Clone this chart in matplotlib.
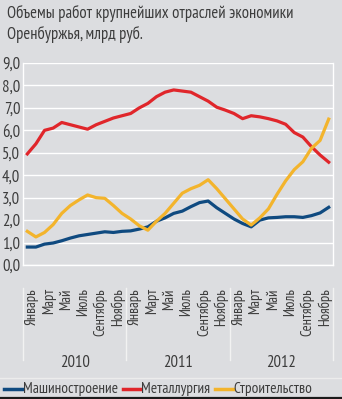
# -*- coding: utf-8 -*-
"""
Объемы работ крупнейших отраслей экономики Оренбуржья, 2010-2012
"""
import matplotlib
matplotlib.use("Agg")
import matplotlib.pyplot as plt
from matplotlib import font_manager
from matplotlib.lines import Line2D
from matplotlib.transforms import blended_transform_factory

#--- Data (млрд руб., monthly Jan 2010 .. Dec 2012)
years = ["2010", "2011", "2012"]
month_labels = ["Январь", "Март", "Май", "Июль", "Сентябрь", "Ноябрь"]

mashinostroenie = [0.80, 0.80, 0.93, 0.98, 1.08, 1.20, 1.30, 1.36, 1.42, 1.48, 1.45, 1.50,
                   1.52, 1.60, 1.70, 1.95, 2.10, 2.30, 2.40, 2.60, 2.78, 2.85, 2.55, 2.30,
                   2.05, 1.85, 1.70, 2.00, 2.10, 2.12, 2.15, 2.15, 2.12, 2.20, 2.32, 2.57]
metallurgiya = [4.95, 5.40, 6.00, 6.10, 6.35, 6.25, 6.15, 6.05, 6.25, 6.40, 6.55, 6.65,
                6.75, 7.00, 7.20, 7.50, 7.70, 7.80, 7.75, 7.70, 7.50, 7.30, 7.03, 6.90,
                6.75, 6.52, 6.65, 6.60, 6.52, 6.42, 6.27, 5.90, 5.70, 5.27, 4.90, 4.58]
stroitelstvo = [1.50, 1.25, 1.45, 1.80, 2.30, 2.65, 2.90, 3.12, 3.00, 2.97, 2.65, 2.30,
                2.05, 1.75, 1.55, 1.95, 2.30, 2.75, 3.20, 3.40, 3.55, 3.80, 3.40, 2.95,
                2.50, 2.05, 1.78, 2.10, 2.50, 3.15, 3.75, 4.25, 4.60, 5.20, 5.55, 6.50]

series_names = ["Машиностроение", "Металлургия", "Строительство"]
series_colors = ["#0f4a80", "#e0262b", "#f3b42c"]

bg = "#dcdde0"
text_col = "#3c3c3c"

# Pick a narrow font if there is one
names = {f.name for f in font_manager.fontManager.ttflist}
prefs = ["PT Sans Narrow", "Archivo Narrow", "Roboto Condensed", "Fira Sans Condensed",
         "Liberation Sans Narrow", "Roboto"]
narrow = next((p for p in prefs if p in names), "DejaVu Sans")
plt.rcParams["font.family"] = [narrow, "DejaVu Sans"]

W, H = 342, 399
fig = plt.figure(figsize=(W / 100, H / 100), dpi=100, facecolor=bg)
ax = fig.add_axes([23 / W, 1 - 265 / H, 310 / W, 202 / H], facecolor=bg)

x = list(range(len(metallurgiya)))
for vals, col in zip([mashinostroenie, metallurgiya, stroitelstvo], series_colors):
    ax.plot(x, vals, color=col, lw=2.3, solid_joinstyle="round", zorder=3)

ax.set_xlim(-0.5, 35.5)
ax.set_ylim(0, 9)
ax.set_yticks(range(10))
ax.set_yticklabels([f"{v},0" for v in range(10)], fontsize=12, color=text_col)
ax.tick_params(axis="y", length=0, pad=2)
ax.set_xticks([])
ax.grid(axis="y", color="white", lw=1.0)
for s in ["left", "right", "bottom"]:
    ax.spines[s].set_color("white")
    ax.spines[s].set_linewidth(1.0)
ax.spines["top"].set_visible(False)

# Month and year labels below the axis
tr = blended_transform_factory(ax.transData, ax.transAxes)
px = 1 / 202.0
for k, yr in enumerate(years):
    for m, name in enumerate(month_labels):
        ax.text(12 * k + 2 * m + 0.5, -(288 - 265) * px, name, transform=tr,
                rotation=90, ha="center", va="top", fontsize=10.5, color=text_col)
    ax.text(12 * k + 5.5, -(363 - 265) * px, yr, transform=tr,
            ha="center", va="center", fontsize=12, color=text_col)
for sep in [-0.5, 11.5, 23.5, 35.5]:
    ax.plot([sep, sep], [-(288 - 265) * px, -(360 - 265) * px], transform=tr,
            color="#f2f2f2", lw=1.0, clip_on=False)

# Title
fig.text(7 / W, 1 - 13 / H, "Объемы работ крупнейших отраслей экономики",
         fontsize=12, color=text_col, va="center", ha="left")
fig.text(7 / W, 1 - 34 / H, "Оренбуржья, млрд руб.",
         fontsize=12, color=text_col, va="center", ha="left")

# Legend at the bottom
fig.add_artist(Line2D([0, 1], [1 - 378 / H, 1 - 378 / H], color="#ececec", lw=1.0,
                      transform=fig.transFigure))
leg_x = [(4, 22), (123, 140), (215, 233)]
for (x0, x1), name, col in zip(leg_x, series_names, series_colors):
    yy = 1 - 389 / H
    fig.add_artist(Line2D([x0 / W, x1 / W], [yy, yy], color=col, lw=2.5,
                          transform=fig.transFigure))
    fig.text((x1 + 0.5) / W, yy, name, fontsize=11, color=text_col,
             va="center", ha="left")
fig.add_artist(Line2D([0, 1], [1 - 398 / H, 1 - 398 / H], color="#1a1a1a", lw=1.6,
                      transform=fig.transFigure))

fig.savefig("out.png", dpi=100, facecolor=bg)
